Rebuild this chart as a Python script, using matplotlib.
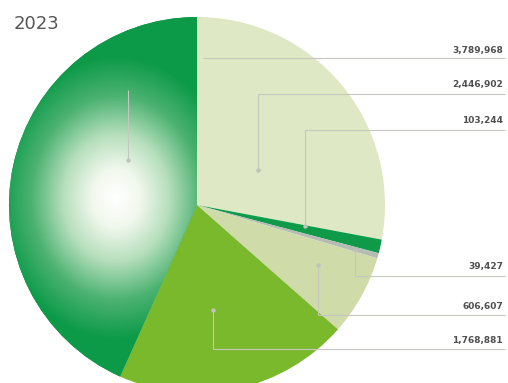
"""
2023 volume breakdown pie with right-hand callout labels.
"""

import numpy as np
import matplotlib
matplotlib.use("Agg")
import matplotlib.pyplot as plt
from matplotlib.colors import LinearSegmentedColormap

# Slice values, clockwise from 12 o'clock
values = [2446902, 103244, 39427, 606607, 1768881, 3789968]
colors = ['#dfe8c4', '#0f9a4a', '#b4bcb4', '#cfdcaa', '#7ab82c', '#0c9a48']
year_label = '2023'

# Callout layout (pixel coords): label text y, underline y, underline start x,
# knee x of the vertical leader, leader end y (dot)
label_order = [5, 0, 1, 2, 3, 4]
label_text_y = [50, 85, 120, 266, 307, 340]
label_line_y = [58, 94, 130, 276, 315, 349]
line_start_x = [203, 258, 305, 355, 318, 213]
leader_x = [128, 258, 305, 355, 318, 213]
leader_top_y = [90, 94, 130, 250, 265, 310]
leader_dot_y = [160, 170, 226, 250, 265, 310]

W, H = 508, 383
fig = plt.figure(figsize=(W / 100, H / 100), dpi=100)
ax = fig.add_axes([0, 0, 1, 1])


def py(y):
    # convert a top-down pixel row to data y
    return H - y


cx, cy, r = 197, py(205), 188
wedges, _ = ax.pie(values, colors=colors, startangle=90, counterclock=False,
                   center=(cx, cy), radius=r, frame=True,
                   wedgeprops=dict(linewidth=0))
ax.set_aspect('equal')
ax.axis('off')

# soft radial highlight on the largest slice
gx, gy = 116, py(198)
xx, yy = np.meshgrid(np.linspace(0, W, W), np.linspace(0, H, H))
dist = np.clip(np.hypot((xx - gx) / 118, (yy - gy) / 142), 0, 1)
cmap = LinearSegmentedColormap.from_list(
    'glow', [(0, '#ffffff'), (0.2, '#f2f8ee'), (0.45, '#b6dfbc'),
             (0.72, '#4cb272'), (1, '#0c9a48')])
img = ax.imshow(dist, extent=(0, W, 0, H), origin='lower', cmap=cmap,
                vmin=0, vmax=1, zorder=2, interpolation='bilinear')
img.set_clip_path(wedges[5])

# callouts
line_kw = dict(color='#c6c8c0', lw=0.8, zorder=3, solid_capstyle='butt')
for i, idx in enumerate(label_order):
    ly = py(label_line_y[i])
    ax.plot([line_start_x[i], 505], [ly, ly], **line_kw)
    ax.plot([leader_x[i], leader_x[i]], [py(leader_top_y[i]), py(leader_dot_y[i])], **line_kw)
    if i in (3, 4, 5):
        ax.plot([leader_x[i], leader_x[i]], [py(leader_dot_y[i]), ly], **line_kw)
    ax.plot(leader_x[i], py(leader_dot_y[i]), 'o', ms=2.2, color='#c0c3b9', zorder=4)
    ax.text(503, py(label_text_y[i]), f'{values[idx]:,}', ha='right', va='center',
            fontsize=6.5, fontweight='bold', color='#505050', zorder=5)

ax.text(14, py(24), year_label, ha='left', va='center', fontsize=13,
        color='#555555', zorder=5)

ax.set_xlim(0, W)
ax.set_ylim(0, H)
fig.savefig('out.png', dpi=100)
